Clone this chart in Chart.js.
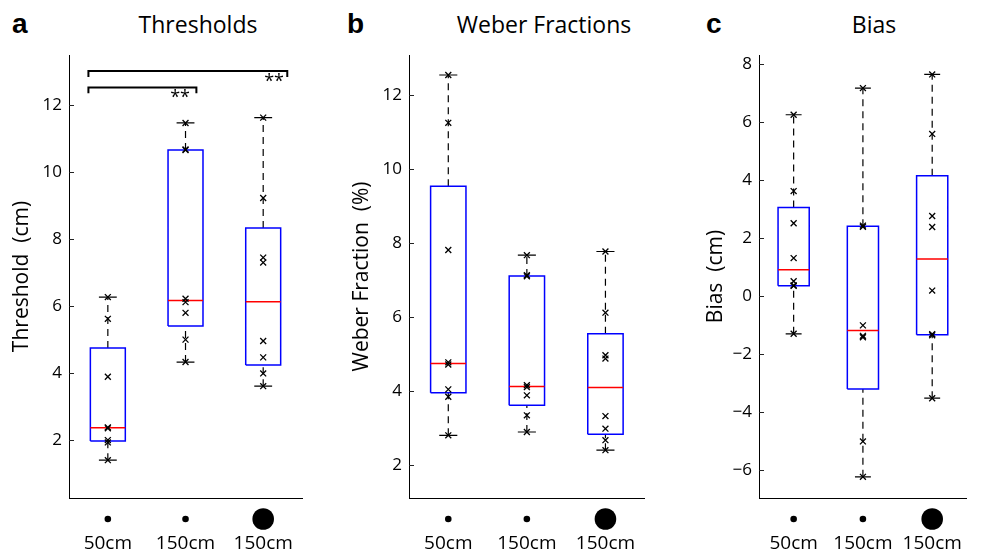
<!DOCTYPE html>
<html><head><meta charset="utf-8">
<script src="https://cdn.jsdelivr.net/npm/chart.js@4/dist/chart.umd.min.js"></script>
<style>
html,body{margin:0;padding:0;background:#fff;}
body{width:997px;height:552px;position:relative;overflow:hidden;font-family:'Open Sans',sans-serif;}
canvas{position:absolute;top:0;}
.lbl{position:absolute;font-family:'Liberation Sans',Arial,sans-serif;font-weight:bold;font-size:28px;line-height:28px;color:#000;}
.ttl{position:absolute;font-family:'Open Sans',sans-serif;font-size:23px;line-height:23px;color:#000;transform:translateX(-50%);white-space:nowrap;}
</style></head><body>
<div class="lbl" style="left:12px;top:10px">a</div>
<div class="lbl" style="left:347px;top:10px">b</div>
<div class="lbl" style="left:706px;top:10px">c</div>
<div class="ttl" style="left:198px;top:13px">Thresholds</div>
<div class="ttl" style="left:544px;top:13px">Weber Fractions</div>
<div class="ttl" style="left:874px;top:13px">Bias</div>
<canvas id="cA" width="330" height="552" style="left:0px"></canvas>
<canvas id="cB" width="340" height="552" style="left:330px"></canvas>
<canvas id="cC" width="327" height="552" style="left:670px"></canvas>
<script>
// ---------- data ----------
const categories = ['50cm', '150cm', '150cm'];

// Panel a: Thresholds (cm)
const thrPoints = [
  [6.27, 5.62, 3.89, 2.38, 2.35, 2.00, 1.93, 1.40],
  [11.47, 10.68, 10.66, 6.22, 6.12, 5.80, 5.00, 4.33],
  [11.63, 9.23, 7.45, 7.30, 4.96, 4.47, 3.99, 3.61]
];
const thrLo  = [1.40, 4.33, 3.61];
const thrQ1  = [1.97, 5.41, 4.24];
const thrMed = [2.37, 6.17, 6.13];
const thrQ3  = [4.75, 10.66, 8.33];
const thrHi  = [6.27, 11.47, 11.63];
const thrTicks = [2, 4, 6, 8, 10, 12];
const sigBrackets = [
  [[-0.25, 12.36], [-0.25, 12.53], [1.14, 12.53], [1.14, 12.36]],
  [[-0.25, 12.84], [-0.25, 13.02], [2.31, 13.02], [2.31, 12.84]]
];
const sigLabels = [
  {x: 0.93, y: 12.33, text: '**'},
  {x: 2.14, y: 12.81, text: '**'}
];

// Panel b: Weber Fractions (%)
const webPoints = [
  [12.53, 11.24, 7.81, 4.78, 4.72, 4.05, 3.85, 2.81],
  [7.67, 7.13, 7.10, 4.16, 4.11, 3.89, 3.35, 2.90],
  [7.77, 6.12, 4.97, 4.88, 3.33, 2.99, 2.68, 2.41]
];
const webLo  = [2.81, 2.90, 2.41];
const webQ1  = [3.96, 3.62, 2.84];
const webMed = [4.75, 4.13, 4.10];
const webQ3  = [9.53, 7.11, 5.55];
const webHi  = [12.53, 7.67, 7.77];
const webTicks = [2, 4, 6, 8, 10, 12];

// Panel c: Bias (cm)
const biasPoints = [
  [6.26, 3.63, 2.52, 1.32, 0.52, 0.38, 0.36, -1.29],
  [7.18, 2.44, 2.40, -1.00, -1.36, -1.41, -5.00, -6.22],
  [7.65, 5.60, 2.77, 2.39, 0.20, -1.30, -1.34, -3.51]
];
const biasLo  = [-1.29, -6.22, -3.51];
const biasQ1  = [0.37, -3.19, -1.32];
const biasMed = [0.92, -1.18, 1.29];
const biasQ3  = [3.06, 2.42, 4.16];
const biasHi  = [6.26, 7.18, 7.65];
const biasTicks = [-6, -4, -2, 0, 2, 4, 6, 8];

// ---------- styles ----------
const BOX_HALF = 0.225, CAP_HALF = 0.115;
const dotRadius = [3.3, 3.3, 10.8];
const BLUE = '#0000ff', RED = '#ff0000', BLACK = '#000000';

function polylines(list) {
  const out = [];
  list.forEach((pl, k) => {
    if (k) out.push({x: pl[0][0], y: null});
    pl.forEach(p => out.push({x: p[0], y: p[1]}));
  });
  return out;
}
function lineDs(data, color, width, dash) {
  return {data, showLine: true, borderColor: color, borderWidth: width, borderDash: dash || [],
    pointRadius: 0, pointHoverRadius: 0, tension: 0, spanGaps: false, fill: false, clip: false};
}

const panelPlugin = {
  id: 'panelExtras',
  afterDraw(chart) {
    const ctx = chart.ctx, xs = chart.scales.x, ys = chart.scales.y, ca = chart.chartArea;
    const o = chart.options.plugins.panelExtras;
    ctx.save();
    // inward y ticks
    ctx.strokeStyle = '#222'; ctx.lineWidth = 1;
    ys.ticks.forEach(t => {
      const y = Math.round(ys.getPixelForValue(t.value)) + 0.5;
      ctx.beginPath(); ctx.moveTo(ca.left, y); ctx.lineTo(ca.left + 5, y); ctx.stroke();
    });
    // condition dots under the axis
    ctx.fillStyle = BLACK;
    categories.forEach((c, i) => {
      const x = xs.getPixelForValue(i);
      ctx.beginPath(); ctx.arc(x, ca.bottom + 21, dotRadius[i], 0, Math.PI * 2); ctx.fill();
    });
    // significance labels
    (o.labels || []).forEach(l => {
      ctx.font = '18px "Open Sans"'; ctx.textAlign = 'center'; ctx.textBaseline = 'middle';
      ctx.fillText(l.text, xs.getPixelForValue(l.x), ys.getPixelForValue(l.y) + 4);
    });
    ctx.restore();
  }
};

function makePanel(id, p) {
  const datasets = [];
  const pts = [];
  p.points.forEach((arr, i) => arr.forEach(v => pts.push({x: i, y: v})));
  datasets.push({data: pts, showLine: false, pointStyle: 'crossRot', pointRadius: 4.2, pointBorderColor: BLACK,
    pointBorderWidth: 1.3, pointBackgroundColor: BLACK, clip: false});
  const med = [], box = [], cap = [], wh = [];
  categories.forEach((c, i) => {
    med.push([[i - BOX_HALF, p.med[i]], [i + BOX_HALF, p.med[i]]]);
    box.push([[i - BOX_HALF, p.q1[i]], [i + BOX_HALF, p.q1[i]], [i + BOX_HALF, p.q3[i]], [i - BOX_HALF, p.q3[i]], [i - BOX_HALF, p.q1[i]]]);
    cap.push([[i - CAP_HALF, p.hi[i]], [i + CAP_HALF, p.hi[i]]]);
    cap.push([[i - CAP_HALF, p.lo[i]], [i + CAP_HALF, p.lo[i]]]);
    wh.push([[i, p.q3[i]], [i, p.hi[i]]]);
    wh.push([[i, p.lo[i]], [i, p.q1[i]]]);
  });
  datasets.push(lineDs(polylines(med), RED, 1.5));
  datasets.push(lineDs(polylines(box), BLUE, 1.5));
  datasets.push(lineDs(polylines(cap), BLACK, 1.2));
  datasets.push(lineDs(polylines(wh), BLACK, 1.2, [7, 5]));
  if (p.brackets) datasets.push(lineDs(polylines(p.brackets), BLACK, 2));

  new Chart(document.getElementById(id), {
    type: 'scatter',
    data: {datasets},
    options: {
      responsive: false, animation: false, events: [],
      layout: {padding: {left: 0, top: 55, right: p.padRight, bottom: 0}},
      plugins: {legend: {display: false}, tooltip: {enabled: false}, panelExtras: {labels: p.labels}},
      scales: {
        x: {
          type: 'linear', min: -0.5, max: 2.5,
          afterBuildTicks: s => { s.ticks = categories.map((c, i) => ({value: i})); },
          afterFit: s => { s.height = 54; },
          grid: {display: false, drawTicks: false},
          border: {display: true, color: BLACK, width: 1},
          ticks: {autoSkip: false, maxRotation: 0, padding: 34, color: BLACK,
            font: {family: 'Open Sans', size: 19},
            callback: (v) => categories[v]}
        },
        y: {
          type: 'linear', min: p.min, max: p.max,
          afterBuildTicks: s => { s.ticks = p.ticks.map(v => ({value: v})); },
          afterFit: s => { s.width = p.yWidth; },
          grid: {display: false, drawTicks: false},
          border: {display: true, color: BLACK, width: 1},
          ticks: {padding: 7, color: BLACK, font: {family: 'Open Sans', size: 17},
            callback: v => (v < 0 ? '\u2212' + Math.abs(v) : String(v))},
          title: {display: true, text: p.title, color: BLACK, font: {family: 'Open Sans', size: 21},
            padding: {top: p.titlePad, bottom: 0}}
        }
      }
    },
    plugins: [panelPlugin]
  });
}

makePanel('cA', {points: thrPoints, lo: thrLo, q1: thrQ1, med: thrMed, q3: thrQ3, hi: thrHi,
  ticks: thrTicks, min: 0.27, max: 13.5, yWidth: 69, padRight: 19, title: 'Threshold  (cm)', titlePad: 9,
  brackets: sigBrackets, labels: sigLabels});
makePanel('cB', {points: webPoints, lo: webLo, q1: webQ1, med: webMed, q3: webQ3, hi: webHi,
  ticks: webTicks, min: 1.12, max: 13.07, yWidth: 79, padRight: 1, title: 'Weber Fraction  (%)', titlePad: 19});
makePanel('cC', {points: biasPoints, lo: biasLo, q1: biasQ1, med: biasMed, q3: biasQ3, hi: biasHi,
  ticks: biasTicks, min: -6.95, max: 8.32, yWidth: 89, padRight: 7, title: 'Bias  (cm)', titlePad: 33});
</script>
</body></html>
